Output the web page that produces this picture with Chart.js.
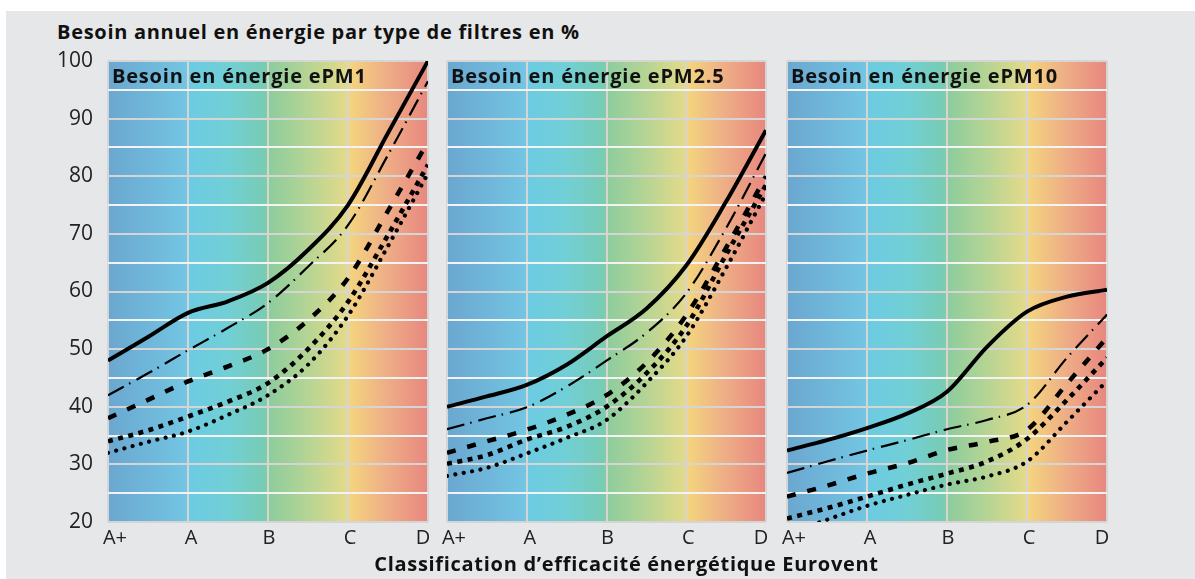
<!DOCTYPE html>
<html lang="fr">
<head>
<meta charset="utf-8">
<script src="https://cdn.jsdelivr.net/npm/chart.js@4.4.1/dist/chart.umd.min.js"></script>
<style>
  html, body { margin: 0; padding: 0; background: #fff; }
  body { width: 1195px; height: 579px; position: relative; overflow: hidden; }
  #fond { position: absolute; left: 6px; top: 11px; width: 1189px; height: 568px; background: #e6e7e8; }
  .txt { position: absolute; font-family: "Open Sans", sans-serif; font-weight: 700; color: #111; white-space: nowrap; line-height: 1; font-size: 20px; letter-spacing: 0.7px; }
  #titre { left: 57px; top: 22px; }
  #axeX { left: 0; width: 1253px; text-align: center; top: 554px; }
  .panneau { position: absolute; top: 48px; height: 507px; }
</style>
</head>
<body>
<div id="fond"></div>
<div class="txt" id="titre">Besoin annuel en énergie par type de filtres en %</div>
<div class="panneau" style="left:40px;width:400px"><canvas id="pm1"></canvas></div>
<div class="panneau" style="left:427px;width:352px"><canvas id="pm25"></canvas></div>
<div class="panneau" style="left:767px;width:352px"><canvas id="pm10"></canvas></div>
<div class="txt" id="axeX">Classification d’efficacité énergétique Eurovent</div>
<script>
// classes Eurovent (positions 0..4, lues aussi aux demi-classes)
const classes = ["A+", "A", "B", "C", "D"];
const positions = [0, 0.5, 1, 1.5, 2, 2.5, 3, 3.5, 4];

// ePM1
const pm1Plein   = [48, 52.1, 56.3, 58.3, 61.5, 67.2, 75, 87.5, 100];
const pm1Mixte   = [42, 45.8, 49.8, 53.7, 58, 64.3, 71.5, 83.7, 96.5];
const pm1Tirets  = [38, 41.2, 44.4, 47, 50, 55, 62.3, 74, 86];
const pm1Carres  = [34, 35.9, 38.3, 40.9, 44.1, 50, 58.2, 69.8, 82];
const pm1Points  = [32, 33.9, 35.7, 38.6, 42, 47.3, 55.8, 67.9, 80.5];

// ePM2.5
const pm25Plein  = [40, 41.8, 43.8, 47.3, 52.2, 57, 64.5, 75.6, 88];
const pm25Mixte  = [36.1, 38, 39.9, 43.5, 48, 52.8, 59.7, 71, 84];
const pm25Tirets = [32, 34, 36, 38.6, 42, 47.6, 55.9, 67.6, 80];
const pm25Carres = [30.1, 31.6, 34.3, 36.5, 40, 45.8, 54, 66.4, 78.5];
const pm25Points = [28, 29.4, 31.9, 34.6, 37.7, 44.1, 52.2, 64.1, 77];

// ePM10
const pm10Plein  = [32.4, 34.2, 36.3, 38.8, 42.6, 50.4, 56.5, 59.1, 60.3];
const pm10Mixte  = [28.5, 30.5, 32.4, 34.2, 36.1, 37.7, 40.3, 48.5, 56];
const pm10Tirets = [24.4, 26.3, 28.4, 30.2, 32.5, 33.9, 36, 44, 52];
const pm10Carres = [20.6, 22.4, 24.4, 26.5, 28.4, 30.5, 34.4, 41.2, 48.5];
const pm10Points = [18, 20.4, 22.8, 24.7, 26.5, 27.9, 30.5, 37.4, 44.5];

const titres = ["Besoin en énergie ePM1", "Besoin en énergie ePM2.5", "Besoin en énergie ePM10"];

// degradé de fond (bleu -> rouge)
const degrade = [
  [0, "#6ba7d0"], [0.245, "#73c5e3"], [0.25, "#6ccbe2"], [0.37, "#71cfd7"],
  [0.49, "#78ccb4"], [0.5, "#8ccc9e"], [0.62, "#b4d494"], [0.745, "#e3da89"],
  [0.75, "#f4d67e"], [0.87, "#eeae86"], [1, "#e8877f"]
];

const styles = [
  { borderWidth: 4, borderDash: [] },
  { borderWidth: 2.2, borderDash: [18, 6, 1.5, 7] },
  { borderWidth: 4.5, borderDash: [9, 12] },
  { borderWidth: 4.6, borderDash: [5, 5.5] },
  { borderWidth: 4.2, borderDash: [0.01, 8.5], borderCapStyle: "round" }
];

// petits decalages des etiquettes de classe (A+ et D rentrent vers l'interieur)
const decalEtiq = [7, 3, 1, 2, -5];

const fondPanneau = {
  id: "fondPanneau",
  beforeDraw(chart) {
    const { ctx, chartArea: a } = chart;
    const g = ctx.createLinearGradient(a.left, 0, a.right, 0);
    degrade.forEach(([p, c]) => g.addColorStop(p, c));
    ctx.save();
    ctx.fillStyle = g;
    ctx.fillRect(a.left, a.top, a.width, a.height);
    ctx.restore();
  },
  afterDraw(chart, args, opts) {
    const { ctx, chartArea: a } = chart;
    const sx = chart.scales.x;
    ctx.save();
    ctx.font = "bold 20px 'Open Sans'";
    ctx.letterSpacing = "0.8px";
    ctx.fillStyle = "#111";
    ctx.textBaseline = "alphabetic";
    ctx.fillText(opts.texte, a.left + 4, a.top + 22);
    // etiquettes de l'axe x
    ctx.letterSpacing = "0px";
    ctx.font = "20px 'Open Sans'";
    ctx.fillStyle = "#222";
    ctx.textAlign = "center";
    classes.forEach((c, i) => {
      ctx.fillText(c, sx.getPixelForValue(i) + decalEtiq[i], a.bottom + 22);
    });
    ctx.restore();
  }
};

function panneau(id, idx, series, avecAxe, padGauche, padDroite) {
  new Chart(document.getElementById(id), {
    type: "line",
    data: {
      datasets: series.map((vals, i) => Object.assign({
        data: positions.map((x, j) => ({ x: x, y: vals[j] })),
        borderColor: "#000",
        pointRadius: 0,
        fill: false,
        cubicInterpolationMode: "monotone",
        clip: 0
      }, styles[i]))
    },
    options: {
      responsive: true,
      maintainAspectRatio: false,
      animation: false,
      layout: { padding: { top: 13, bottom: 0, left: padGauche, right: padDroite } },
      plugins: {
        legend: { display: false },
        tooltip: { enabled: false },
        fondPanneau: { texte: titres[idx] }
      },
      scales: {
        x: {
          type: "linear", min: 0, max: 4,
          afterFit: s => { s.height = 33; },
          ticks: { stepSize: 1, display: false },
          grid: { color: "#d5d5d5", lineWidth: 2, drawTicks: false },
          border: { display: false }
        },
        y: {
          min: 20, max: 100,
          afterFit: s => {
            s.width = avecAxe ? 68 : 0;
            s.paddingTop = 0;
            s.paddingBottom = 0;
          },
          ticks: {
            display: avecAxe, stepSize: 5, padding: 15, color: "#222",
            font: { family: "Open Sans", size: 21 },
            callback: v => v % 10 === 0 ? v : ""
          },
          grid: {
            color: c => c.tick && c.tick.value % 10 === 0 ? "#d5d5d5" : "#f3f3f3",
            lineWidth: 2, drawTicks: false
          },
          border: { display: false }
        }
      }
    },
    plugins: [fondPanneau]
  });
}

panneau("pm1", 0, [pm1Plein, pm1Mixte, pm1Tirets, pm1Carres, pm1Points], true, 0, 12);
panneau("pm25", 1, [pm25Plein, pm25Mixte, pm25Tirets, pm25Carres, pm25Points], false, 20, 13);
panneau("pm10", 2, [pm10Plein, pm10Mixte, pm10Tirets, pm10Carres, pm10Points], false, 20, 12);
</script>
</body>
</html>
